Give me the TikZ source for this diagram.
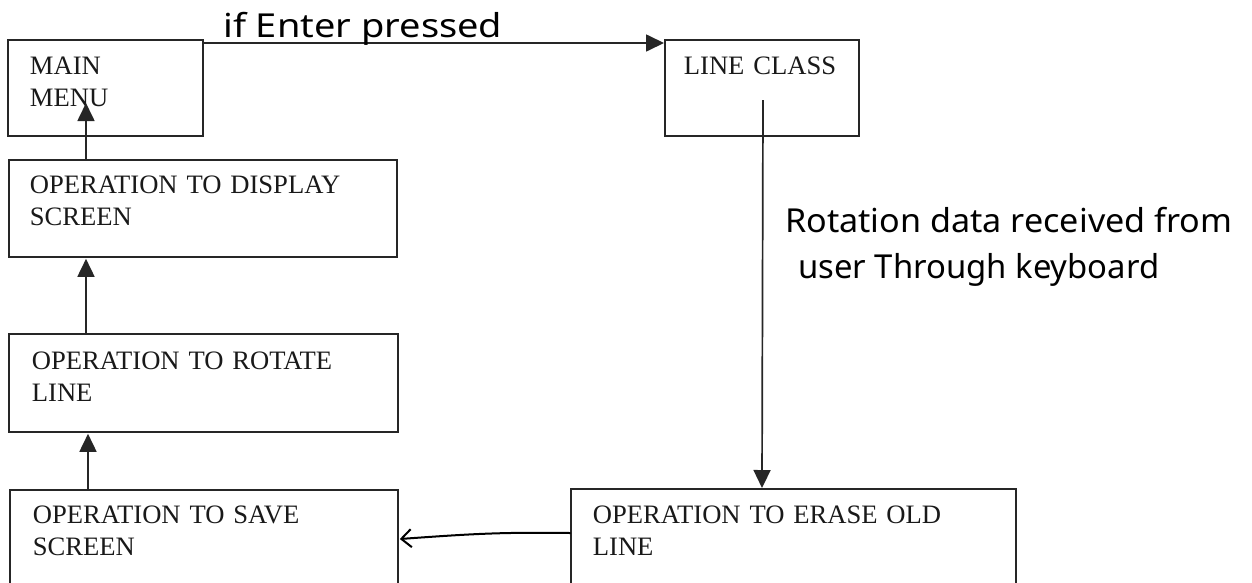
\documentclass[tikz,border=0pt]{standalone}
\usepackage{fontspec}
\setmainfont{Liberation Serif}
\newfontfamily\handfont{Noto Sans}
\usetikzlibrary{arrows.meta,calc}
\tikzset{
  boxnode/.style={draw=black!85, line width=1.8pt, anchor=north west, align=left,
    inner ysep=0pt, font=\fontsize{26.6}{32}\selectfont, text=black!90},
  arr/.style={draw=black!85, line width=1.7pt, -{Triangle[length=18pt,width=17pt]}},
  handarr/.style={draw=black, line width=2pt, line cap=round, -{Straight Barb[length=10pt,width=18pt,line width=2pt]}},
  handtext/.style={anchor=base west, inner sep=0pt, font=\handfont\fontsize{33}{33}\selectfont, text=black}
}
\begin{document}
\begin{tikzpicture}[x=1pt,y=-1pt]
\useasboundingbox (0,0) rectangle (1252,582);
\clip (0,0) rectangle (1252,582);
\fill[white] (0,0) rectangle (1252,582);

% boxes
\node[boxnode, inner xsep=22pt, text width=151pt, text height=35pt, text depth=61pt] (main) at (7,39) {MAIN\\MENU};
\node[boxnode, inner xsep=21pt, text width=346pt, text height=34pt, text depth=63pt] (display) at (8,159) {OPERATION TO DISPLAY\\SCREEN};
\node[boxnode, inner xsep=23pt, text width=343pt, text height=36pt, text depth=62pt] (rotate) at (8,333) {OPERATION TO ROTATE\\LINE};
\node[boxnode, inner xsep=23pt, text width=342pt, text height=34pt, text depth=90pt] (save) at (9,489) {OPERATION TO SAVE\\SCREEN};
\node[boxnode, inner xsep=19pt, text width=156pt, text height=35pt, text depth=61pt] (lineclass) at (664,39) {LINE CLASS};
\node[boxnode, inner xsep=22pt, text width=401pt, text height=35pt, text depth=90pt] (erase) at (570,488) {OPERATION TO ERASE OLD\\LINE};

% connectors
\draw[arr] ($(main.north east)+(0,4)$) -- ($(lineclass.north west)+(0,4)$);
\draw[arr] ($(display.north west)+(78,0)$) -- ($(main.north west)+(79,64)$);
\draw[arr] ($(rotate.north west)+(78,0)$) -- ($(display.south west)+(78,1)$);
\draw[arr] ($(save.north west)+(79,0)$) -- ($(rotate.south west)+(80,1)$);
\draw[arr] ($(lineclass.north west)+(99,61)$) -- ($(erase.north west)+(192,0)$);
\draw[handarr] ($(erase.north west)+(0,45)$) .. controls (500,532) and (470,534) .. ($(save.north east)+(1,50)$);

% handwritten labels
\node[handtext] (lblenter) at (223,37) {\resizebox{279pt}{\height}{if Enter pressed}};
\node[handtext] (lblrot1) at (785,232) {\resizebox{447pt}{\height}{Rotation data received from}};
\node[handtext] (lblrot2) at (798,278) {\resizebox{361pt}{\height}{user Through keyboard}};
\end{tikzpicture}
\end{document}
